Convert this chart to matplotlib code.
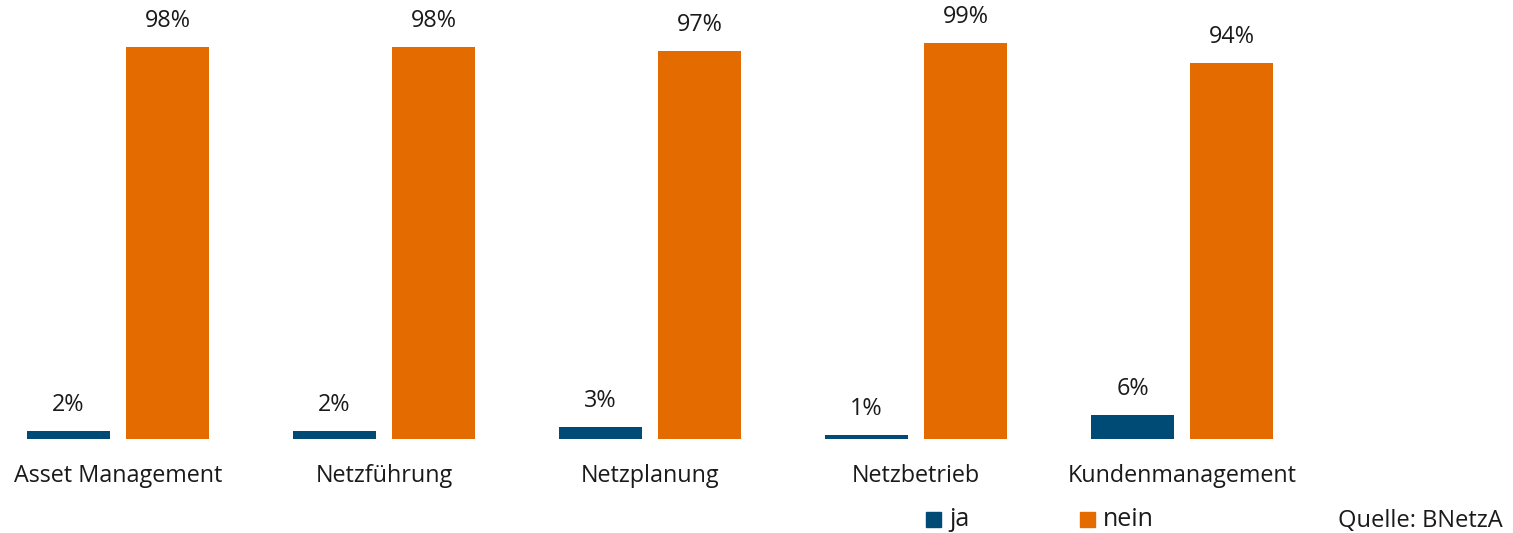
import matplotlib
matplotlib.use("Agg")
import matplotlib.pyplot as plt
import numpy as np
from matplotlib.patches import Rectangle

categories = ["Asset Management", "Netzführung", "Netzplanung", "Netzbetrieb", "Kundenmanagement"]
ja_values = [2, 2, 3, 1, 6]
nein_values = [98, 98, 97, 99, 94]
series_names = ["ja", "nein"]
source_text = "Quelle: BNetzA"

BLUE = "#004B76"
ORANGE = "#E36B00"
TEXT = "#1a1a1a"

plt.rcParams["font.family"] = ["Open Sans", "DejaVu Sans"]

W, H = 1513, 533
fig = plt.figure(figsize=(W / 100, H / 100), dpi=100)
ax = fig.add_axes([0, 0, 1, 1])
ax.set_xlim(-118 / 266, (W - 118) / 266)
ax.set_ylim(-94 / 4, (H - 94) / 4)
ax.axis("off")

x = np.arange(len(categories))
width = 83 / 266
offset = 49.5 / 266

bars_ja = ax.bar(x - offset, ja_values, width, color=BLUE, label=series_names[0])
bars_nein = ax.bar(x + offset, nein_values, width, color=ORANGE, label=series_names[1])

fs = 16.8
for bars, vals in ((bars_ja, ja_values), (bars_nein, nein_values)):
    for b, v in zip(bars, vals):
        ax.annotate(f"{v}%", (b.get_x() + b.get_width() / 2, v),
                    xytext=(0, 10), textcoords="offset points",
                    ha="center", va="bottom", fontsize=fs, color=TEXT)

for xi, c in zip(x, categories):
    ax.annotate(c, (xi, 0), xytext=(0, -27), textcoords="offset points",
                ha="center", va="center", fontsize=fs, color=TEXT)

# legend drawn in figure pixels
def px(xp, yp):
    return xp / W, 1 - yp / H

for (lx, col, name) in ((926, BLUE, series_names[0]), (1080, ORANGE, series_names[1])):
    x0, y0 = px(lx, 527)
    fig.patches.append(Rectangle((x0, y0), 15 / W, 15 / H, transform=fig.transFigure,
                                 color=col))
    tx, ty = px(lx + 23, 519)
    fig.text(tx, ty, name, fontsize=18, color=TEXT, ha="left", va="center")

sx, sy = px(1503, 521)
fig.text(sx, sy, source_text, fontsize=17, color=TEXT, ha="right", va="center")

fig.savefig("out.png", dpi=100)
